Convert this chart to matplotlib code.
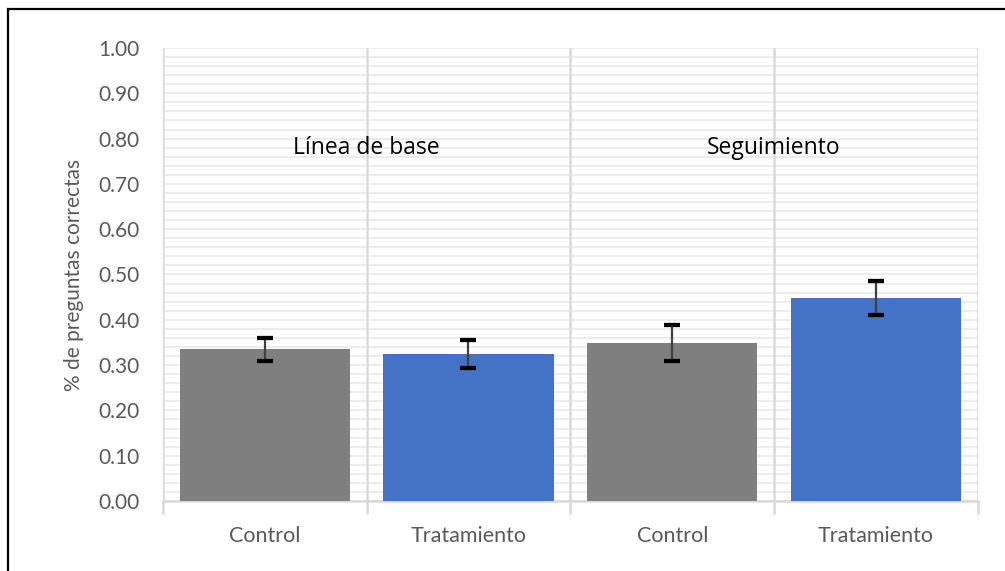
import numpy as np
import matplotlib.pyplot as plt
from matplotlib.patches import Rectangle

plt.rcParams['font.family'] = ['Lato', 'DejaVu Sans']

categories = ['Control', 'Tratamiento', 'Control', 'Tratamiento']
values = [0.335, 0.325, 0.349, 0.448]
errors = [0.025, 0.031, 0.039, 0.038]
colors = ['#7f7f7f', '#4472c4', '#7f7f7f', '#4472c4']
groups = ['Línea de base', 'Seguimiento']
group_pos = [0.5, 2.5]

fig = plt.figure(figsize=(10.05, 5.71), dpi=100)
ax = fig.add_axes([0.162, 0.1226, 0.811, 0.7934])

x = np.arange(len(values))
ax.bar(x, values, width=0.835, color=colors, zorder=3)
ax.errorbar(x, values, yerr=errors, fmt='none', ecolor='#404040', elinewidth=1.6,
            capsize=6, capthick=3, zorder=4)
# caps in black
ax.errorbar(x, values, yerr=errors, fmt='none', ecolor='black', elinewidth=0,
            capsize=6, capthick=3, zorder=5)

for g, p in zip(groups, group_pos):
    ax.text(p, 0.78, g, ha='center', va='center', fontsize=16.5, color='black',
            family=['Open Sans', 'DejaVu Sans'])

ax.set_xlim(-0.5, 3.5)
ax.set_ylim(0, 1.0)
ax.set_yticks(np.arange(0, 1.01, 0.1))
ax.set_yticklabels([f'{v:.2f}' for v in np.arange(0, 1.01, 0.1)])
ax.set_yticks(np.arange(0, 1.001, 0.02), minor=True)
ax.yaxis.grid(True, which='both', color='#ececec', linewidth=1.5, zorder=0)
ax.set_axisbelow(True)

for s in np.arange(-0.5, 3.6, 1.0):
    ax.axvline(s, color='#d9d9d9', linewidth=1.8, zorder=1)

ax.set_xticks(x)
ax.set_xticklabels(categories)
ax.set_xticks(np.arange(-0.5, 3.6, 1.0), minor=True)
ax.tick_params(axis='x', which='major', length=0, pad=18, labelsize=15.5, labelcolor='#595959')
ax.tick_params(axis='x', which='minor', length=9, width=1.8, color='#d9d9d9')
ax.tick_params(axis='y', which='both', length=0, pad=17, labelsize=15, labelcolor='#595959')

for sp in ['top', 'right', 'left']:
    ax.spines[sp].set_visible(False)
ax.spines['bottom'].set_color('#d9d9d9')
ax.spines['bottom'].set_linewidth(1.8)

ax.set_ylabel('% de preguntas correctas', fontsize=15, color='#595959', labelpad=10)

fig.patches.append(Rectangle((8 / 1005, -0.05), 1.2, 1 - 9 / 571 + 0.05, transform=fig.transFigure,
                             fill=False, edgecolor='black', linewidth=1.6))

fig.savefig('out.png', dpi=100)
